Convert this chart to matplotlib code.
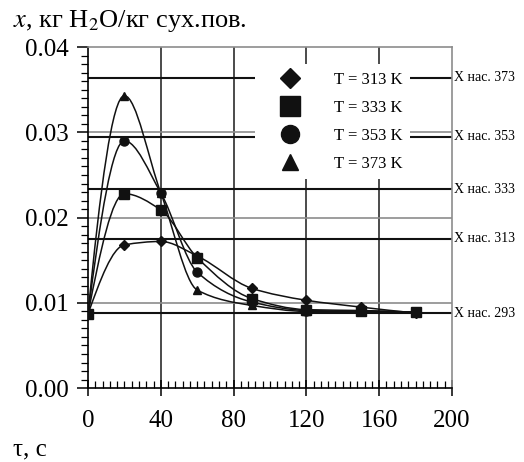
import numpy as np
import matplotlib
matplotlib.use("Agg")
import matplotlib.pyplot as plt
from matplotlib.path import Path
from matplotlib.patches import PathPatch
from matplotlib.lines import Line2D
from matplotlib.ticker import MultipleLocator

plt.rcParams["font.family"] = ["Liberation Serif", "DejaVu Serif"]
plt.rcParams["mathtext.fontset"] = "stix"

# time, s
tau = [0, 20, 40, 60, 90, 120, 150, 180]

# moisture content, kg H2O / kg dry air
x_313 = [0.0087, 0.0168, 0.0172, 0.0155, 0.0117, 0.0103, 0.0095, 0.0088]
x_333 = [0.0087, 0.0228, 0.0209, 0.0153, 0.0105, 0.0092, 0.0091, 0.0089]
x_353 = [0.0087, 0.0290, 0.0229, 0.0136, 0.0101, 0.0091, 0.0090, 0.0089]
x_373 = [0.0087, 0.0343, 0.0229, 0.0115, 0.0097, 0.0090, 0.0090, 0.0089]

series_labels = ["T = 313 K", "T = 333 K", "T = 353 K", "T = 373 K"]
series_markers = ["D", "s", "o", "^"]
series_msize = [5, 7, 6.5, 6]
series_z = [4, 6, 4.5, 5]

# saturation lines
sat_temps = [373, 353, 333, 313, 293]
sat_values = [0.0364, 0.0295, 0.0233, 0.0175, 0.0088]


def smooth_path(xs, ys):
    # monotone cubic (pchip-like) tangents, drawn as cubic Bezier segments
    x = np.asarray(xs, float)
    y = np.asarray(ys, float)
    h = np.diff(x)
    d = np.diff(y) / h
    n = len(x)
    m = np.zeros(n)
    for i in range(1, n - 1):
        if d[i - 1] * d[i] > 0:
            w1 = 2 * h[i] + h[i - 1]
            w2 = h[i] + 2 * h[i - 1]
            m[i] = (w1 + w2) / (w1 / d[i - 1] + w2 / d[i])
    m[0] = ((2 * h[0] + h[1]) * d[0] - h[0] * d[1]) / (h[0] + h[1])
    if np.sign(m[0]) != np.sign(d[0]):
        m[0] = 0
    m[-1] = ((2 * h[-1] + h[-2]) * d[-1] - h[-1] * d[-2]) / (h[-1] + h[-2])
    if np.sign(m[-1]) != np.sign(d[-1]):
        m[-1] = 0
    verts = [(x[0], y[0])]
    codes = [Path.MOVETO]
    for i in range(n - 1):
        verts += [(x[i] + h[i] / 3, y[i] + m[i] * h[i] / 3),
                  (x[i + 1] - h[i] / 3, y[i + 1] - m[i + 1] * h[i] / 3),
                  (x[i + 1], y[i + 1])]
        codes += [Path.CURVE4] * 3
    return Path(verts, codes)


fig = plt.figure(figsize=(5.24, 4.62), dpi=100)
ax = fig.add_axes([0.168, 0.160, 0.6945, 0.738])

ax.set_xlim(0, 200)
ax.set_ylim(0, 0.04)

# grid
for gx in [40, 80, 120, 160]:
    ax.axvline(gx, color="#1a1a1a", lw=1.1, zorder=1)
for gy in [0.01, 0.02, 0.03]:
    ax.axhline(gy, color="#8c8c8c", lw=1.2, zorder=1)

# saturation lines with labels
for t, v in zip(sat_temps, sat_values):
    ax.axhline(v, color="#111111", lw=1.5, zorder=2)
    ax.text(1.006, v, f"X нас. {t}", transform=ax.get_yaxis_transform(),
            ha="left", va="center", fontsize=10, clip_on=False)

all_series = [x_313, x_333, x_353, x_373]
handles = []
for ys, lab, mk, ms, zz in zip(all_series, series_labels, series_markers,
                               series_msize, series_z):
    ax.add_patch(PathPatch(smooth_path(tau, ys), facecolor="none",
                           edgecolor="#111111", lw=1.1, zorder=3))
    ax.plot(tau, ys, linestyle="none", marker=mk, markersize=ms,
            color="#111111", zorder=zz)
    handles.append(Line2D([], [], linestyle="none", marker=mk,
                          markersize=ms * 2.0, color="#111111", label=lab))

leg = ax.legend(handles=handles, loc="upper left", bbox_to_anchor=(0.4588, 0.950),
                frameon=True, fontsize=12, handlelength=3.3, handletextpad=1.0,
                labelspacing=0.72, borderpad=0.45, borderaxespad=0)
leg.get_frame().set_facecolor("white")
leg.get_frame().set_edgecolor("none")
leg.get_frame().set_alpha(1.0)
leg.set_zorder(10)

# spines
ax.spines["top"].set_color("#8c8c8c")
ax.spines["right"].set_color("#8c8c8c")
for s in ["top", "right", "left", "bottom"]:
    ax.spines[s].set_linewidth(1.2)

# ticks
ax.xaxis.set_major_locator(MultipleLocator(40))
ax.xaxis.set_minor_locator(MultipleLocator(4))
ax.yaxis.set_minor_locator(MultipleLocator(0.001))
ax.set_yticks([0.00, 0.01, 0.02, 0.03, 0.04])
ax.set_yticklabels(["0.00", "0.01", "0.02", "0.03", "0.04"])
ax.tick_params(axis="x", which="major", direction="inout", length=11, width=1.1,
               labelsize=18, pad=10)
ax.tick_params(axis="x", which="minor", direction="in", length=5, width=0.9)
ax.tick_params(axis="y", which="major", direction="out", length=8, width=1.1,
               labelsize=18, pad=6)
ax.tick_params(axis="y", which="minor", direction="out", length=5, width=0.9)

fig.text(0.025, 0.9416, "$x$, кг H$_2$O/кг сух.пов.", fontsize=19,
         ha="left", va="baseline")
fig.text(0.025, 0.015, "τ, с", fontsize=18, ha="left", va="baseline")

fig.savefig("out.png", dpi=100)
